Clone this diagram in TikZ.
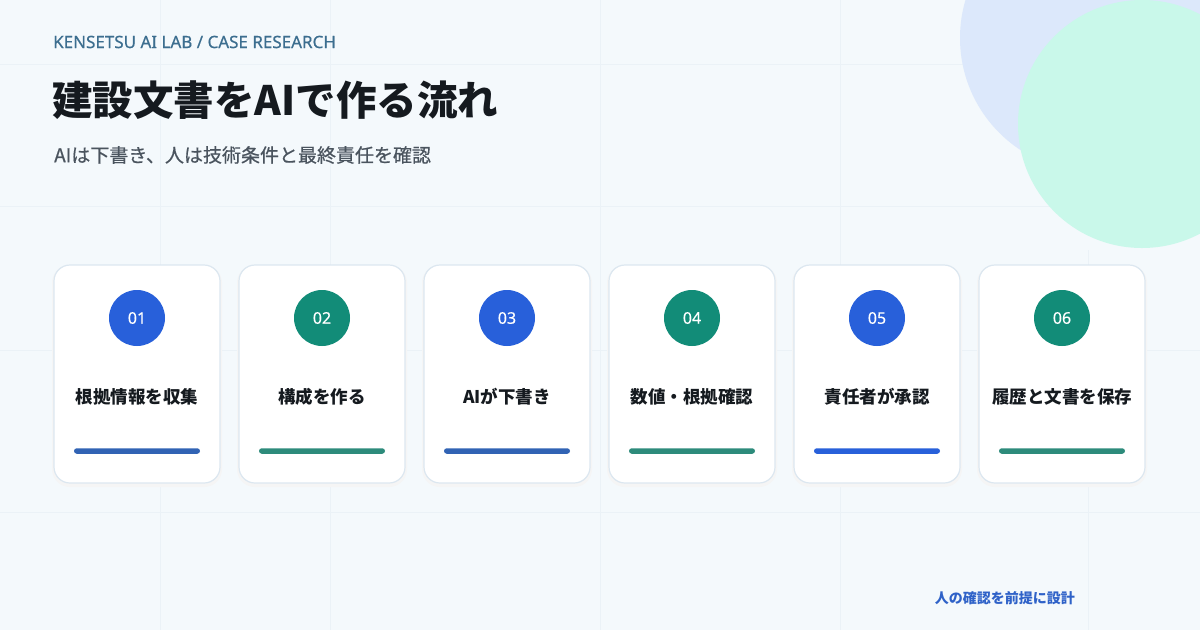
\documentclass[tikz,border=0pt]{standalone}
\usepackage{fontspec}
\setmainfont{Noto Sans CJK JP}
\newfontfamily\latinfont[FakeBold=0.5]{Noto Sans}
\newfontfamily\jpmedium[FakeBold=0.6]{Noto Sans CJK JP}
\usepackage{tikz}
\usetikzlibrary{positioning}

\definecolor{paper}{HTML}{F4F9FC}
\definecolor{gridline}{HTML}{EBF2F7}
\definecolor{kicker}{HTML}{3C6E8F}
\definecolor{ink}{HTML}{151A1F}
\definecolor{subink}{HTML}{4A545E}
\definecolor{stepblue}{HTML}{2860DA}
\definecolor{stepteal}{HTML}{128C78}
\definecolor{barblue}{HTML}{3163B4}
\definecolor{barteal}{HTML}{2D8B7B}
\definecolor{cardline}{HTML}{DCE7F0}
\definecolor{haloblue}{HTML}{DCE8FB}
\definecolor{halomint}{HTML}{C9F8EA}
\definecolor{footblue}{HTML}{2F62C8}

\begin{document}
\begin{tikzpicture}
[ x=1pt, y=-1pt
, card/.style={rectangle, minimum width=166pt, minimum height=218pt, rounded corners=16pt, draw=cardline, line width=1.2pt, fill=white}
, shade/.style={rectangle, minimum width=170pt, minimum height=222pt, rounded corners=18pt, fill=black!4}
, dot/.style={circle, minimum size=56pt, inner sep=0pt, text=white, font=\latinfont\fontsize{16}{16}\selectfont}
, bluedot/.style={dot, fill=stepblue}
, tealdot/.style={dot, fill=stepteal}
, steptext/.style={text=ink, font=\fontsize{17.5}{20}\selectfont\bfseries}
, bar/.style={rectangle, minimum width=126pt, minimum height=5.5pt, inner sep=0pt, rounded corners=2.75pt}
, bluebar/.style={bar, fill=barblue}
, tealbar/.style={bar, fill=barteal}
]
\useasboundingbox (0,0) rectangle (1200,630);
% Background and corner blobs:
\begin{scope}
\clip (0,0) rectangle (1200,630);
\fill [paper] (0,0) rectangle (1200,630);
\draw [gridline, line width=0.8pt] (0,64) -- (1200,64) (0,206) -- (1200,206) (0,350) -- (1200,350) (0,512) -- (1200,512)
  (160,0) -- (160,630) (330,0) -- (330,630) (600,0) -- (600,630) (840,0) -- (840,630) (1088,250) -- (1088,630);
\fill [haloblue] (1094,38) circle (134);
\fill [halomint] (1142,124) circle (124);
\end{scope}
% Heading:
\node (kicker) [anchor=west, text=kicker, font=\latinfont\fontsize{17}{18}\selectfont, inner sep=0pt] at (53,42) {KENSETSU AI LAB / CASE RESEARCH};
\node (title) [anchor=west, text=ink, font=\fontsize{40.5}{44}\selectfont\bfseries, inner sep=0pt] at (52,100) {建設文書をAIで作る流れ};
\node (subtitle) [anchor=west, text=subink, font=\jpmedium\fontsize{19}{22}\selectfont, inner sep=0pt] at (54,155) {AIは下書き、人は技術条件と最終責任を確認};
% Cards:
\node (s1) [shade] at (137,376) {};
\node (c1) [card] at (137,374) {};
\node (n1) [bluedot] at (137,318) {01};
\node (t1) [steptext] at (137,397) {根拠情報を収集};
\node (b1) [bluebar] at (137,451) {};

\node (s2) [shade] at (322,376) {};
\node (c2) [card] at (322,374) {};
\node (n2) [tealdot] at (322,318) {02};
\node (t2) [steptext] at (322,397) {構成を作る};
\node (b2) [tealbar] at (322,451) {};

\node (s3) [shade] at (507,376) {};
\node (c3) [card] at (507,374) {};
\node (n3) [bluedot] at (507,318) {03};
\node (t3) [steptext] at (507,397) {AIが下書き};
\node (b3) [bluebar] at (507,451) {};

\node (s4) [shade] at (692,376) {};
\node (c4) [card] at (692,374) {};
\node (n4) [tealdot] at (692,318) {04};
\node (t4) [steptext] at (692,397) {数値・根拠確認};
\node (b4) [tealbar] at (692,451) {};

\node (s5) [shade] at (877,376) {};
\node (c5) [card] at (877,374) {};
\node (n5) [bluedot] at (877,318) {05};
\node (t5) [steptext] at (877,397) {責任者が承認};
\node (b5) [bluebar, fill=stepblue] at (877,451) {};

\node (s6) [shade] at (1062,376) {};
\node (c6) [card] at (1062,374) {};
\node (n6) [tealdot] at (1062,318) {06};
\node (t6) [steptext] at (1062,397) {履歴と文書を保存};
\node (b6) [tealbar] at (1062,451) {};
% Footer:
\node (footer) [anchor=east, text=footblue, font=\fontsize{14}{16}\selectfont\bfseries, inner sep=0pt] at (1075,598) {人の確認を前提に設計};
\end{tikzpicture}
\end{document}
